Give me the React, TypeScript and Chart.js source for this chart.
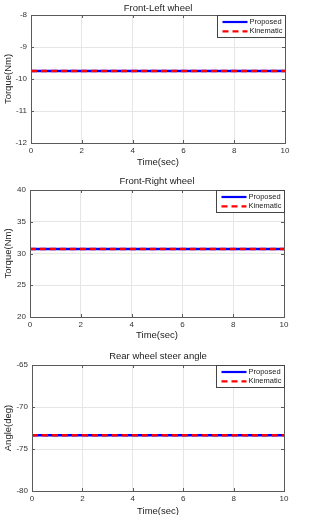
import React, { useEffect, useRef } from "react";
import { Chart, registerables } from "chart.js";
Chart.register(...registerables);

// ---- data ----
const time = [0, 1, 2, 3, 4, 5, 6, 7, 8, 9, 10];
const frontLeftProposed = [-9.75, -9.75, -9.75, -9.75, -9.75, -9.75, -9.75, -9.75, -9.75, -9.75, -9.75];
const frontLeftKinematic = [-9.75, -9.75, -9.75, -9.75, -9.75, -9.75, -9.75, -9.75, -9.75, -9.75, -9.75];
const frontRightProposed = [30.7, 30.7, 30.7, 30.7, 30.7, 30.7, 30.7, 30.7, 30.7, 30.7, 30.7];
const frontRightKinematic = [30.7, 30.7, 30.7, 30.7, 30.7, 30.7, 30.7, 30.7, 30.7, 30.7, 30.7];
const rearProposed = [-73.35, -73.35, -73.35, -73.35, -73.35, -73.35, -73.35, -73.35, -73.35, -73.35, -73.35];
const rearKinematic = [-73.35, -73.35, -73.35, -73.35, -73.35, -73.35, -73.35, -73.35, -73.35, -73.35, -73.35];

const xTicks = [0, 2, 4, 6, 8, 10];
const frontLeftTicks = [-12, -11, -10, -9, -8];
const frontRightTicks = [20, 25, 30, 35, 40];
const rearTicks = [-80, -75, -70, -65];

const seriesLabels = ["Proposed", "Kinematic"];
const panelTitles = ["Front-Left wheel", "Front-Right wheel", "Rear wheel steer angle"];
const yTitles = ["Torque(Nm)", "Torque(Nm)", "Angle(deg)"];
const xTitle = "Time(sec)";

const FONT = '"Liberation Sans", Arial, sans-serif';
const W = 317;
const C = 190; // canvas height
const XH = 30; // x axis box height

type Panel = {
  top: number;
  plotTop: number;
  plotBottom: number;
  plotLeft: number;
  plotRight: number;
  titleY: number;
  xTitlePad: number;
  title: string;
  yTitle: string;
  yTicks: number[];
  proposed: number[];
  kinematic: number[];
};

const panels: Panel[] = [
  { top: 0, plotTop: 15, plotBottom: 143, plotLeft: 31, plotRight: 285, titleY: 8, xTitlePad: 5.3,
    title: panelTitles[0], yTitle: yTitles[0], yTicks: frontLeftTicks, proposed: frontLeftProposed, kinematic: frontLeftKinematic },
  { top: 170, plotTop: 20, plotBottom: 147, plotLeft: 30, plotRight: 284, titleY: 11.7, xTitlePad: 6.3,
    title: panelTitles[1], yTitle: yTitles[1], yTicks: frontRightTicks, proposed: frontRightProposed, kinematic: frontRightKinematic },
  { top: 340, plotTop: 25, plotBottom: 151, plotLeft: 32, plotRight: 284, titleY: 16, xTitlePad: 3.6,
    title: panelTitles[2], yTitle: yTitles[2], yTicks: rearTicks, proposed: rearProposed, kinematic: rearKinematic },
];

const framePlugin = {
  id: "frame",
  afterDraw(chart: any) {
    const { ctx, chartArea: a, scales } = chart;
    ctx.save();
    ctx.strokeStyle = "#5a5a5a";
    ctx.lineWidth = 1;
    // inward tick marks
    ctx.beginPath();
    scales.x.ticks.forEach((t: any) => {
      const px = Math.round(scales.x.getPixelForValue(t.value)) + 0.5;
      ctx.moveTo(px, a.bottom); ctx.lineTo(px, a.bottom - 3);
      ctx.moveTo(px, a.top); ctx.lineTo(px, a.top + 3);
    });
    scales.y.ticks.forEach((t: any) => {
      const py = Math.round(scales.y.getPixelForValue(t.value)) + 0.5;
      ctx.moveTo(a.left, py); ctx.lineTo(a.left + 3, py);
      ctx.moveTo(a.right, py); ctx.lineTo(a.right - 3, py);
    });
    ctx.stroke();
    ctx.strokeRect(Math.round(a.left) + 0.5, Math.round(a.top) + 0.5, Math.round(a.right - a.left), Math.round(a.bottom - a.top));
    ctx.restore();
  },
};

const titlePlugin = {
  id: "ptitle",
  afterDraw(chart: any, _args: any, opts: any) {
    const { ctx, chartArea: a } = chart;
    ctx.save();
    ctx.font = `9.5px ${FONT}`;
    ctx.fillStyle = "#222";
    ctx.textAlign = "center";
    ctx.textBaseline = "middle";
    ctx.fillText(opts.text, (a.left + a.right) / 2, opts.y);
    ctx.restore();
  },
};

const legendPlugin = {
  id: "plegend",
  afterDraw(chart: any) {
    const { ctx, chartArea: a } = chart;
    const bw = 68, bh = 22;
    const x0 = Math.round(a.right - bw) + 0.5;
    const y0 = Math.round(a.top) + 0.5;
    ctx.save();
    ctx.fillStyle = "#ffffff";
    ctx.fillRect(x0, y0, bw, bh);
    ctx.strokeStyle = "#444";
    ctx.lineWidth = 1;
    ctx.strokeRect(x0, y0, bw, bh);
    ctx.font = `7.5px ${FONT}`;
    ctx.textBaseline = "middle";
    ctx.textAlign = "left";
    chart.data.datasets.forEach((ds: any, i: number) => {
      const y = y0 + 6.5 + i * 9.3;
      ctx.beginPath();
      ctx.strokeStyle = ds.borderColor;
      ctx.lineWidth = 2.2;
      ctx.setLineDash(ds.borderDash || []);
      ctx.moveTo(x0 + 5, y);
      ctx.lineTo(x0 + 30, y);
      ctx.stroke();
      ctx.setLineDash([]);
      ctx.fillStyle = "#222";
      ctx.fillText(ds.label, x0 + 32, y);
    });
    ctx.restore();
  },
};

function PanelChart({ p }: { p: Panel }) {
  const ref = useRef<HTMLCanvasElement | null>(null);
  useEffect(() => {
    if (!ref.current) return;
    const yMin = p.yTicks[0];
    const yMax = p.yTicks[p.yTicks.length - 1];
    const chart = new Chart(ref.current, {
      type: "line",
      data: {
        datasets: [
          {
            label: seriesLabels[0],
            data: time.map((t, i) => ({ x: t, y: p.proposed[i] })),
            borderColor: "#0000ff",
            borderWidth: 2.5,
            pointRadius: 0,
            order: 1,
          },
          {
            label: seriesLabels[1],
            data: time.map((t, i) => ({ x: t, y: p.kinematic[i] })),
            borderColor: "#ff0000",
            borderWidth: 2.5,
            borderDash: [6, 4],
            pointRadius: 0,
            order: 0,
          },
        ],
      },
      options: {
        responsive: false,
        animation: false,
        devicePixelRatio: 1,
        layout: {
          padding: { top: p.plotTop, left: 0, right: W - p.plotRight, bottom: C - p.plotBottom - XH },
        },
        plugins: {
          legend: { display: false },
          title: { display: false },
          tooltip: { enabled: false },
          ptitle: { text: p.title, y: p.titleY },
        } as any,
        scales: {
          x: {
            type: "linear",
            min: 0,
            max: 10,
            afterBuildTicks: (s: any) => { s.ticks = xTicks.map((v) => ({ value: v })); },
            afterFit: (s: any) => { s.height = XH; },
            grid: { color: "#e6e6e6", drawTicks: false },
            border: { display: false },
            ticks: { padding: 3, font: { family: FONT, size: 8 }, color: "#333" },
            title: { display: true, text: xTitle, font: { family: FONT, size: 9.5 }, color: "#222", padding: { top: 0, bottom: p.xTitlePad } },
          },
          y: {
            type: "linear",
            min: yMin,
            max: yMax,
            afterBuildTicks: (s: any) => { s.ticks = p.yTicks.map((v) => ({ value: v })); },
            afterFit: (s: any) => { s.width = p.plotLeft; },
            grid: { color: "#e6e6e6", drawTicks: false },
            border: { display: false },
            ticks: { padding: 4, font: { family: FONT, size: 8 }, color: "#333" },
            title: { display: true, text: p.yTitle, font: { family: FONT, size: 9.5 }, color: "#222", padding: { top: 2.3, bottom: 0 } },
          },
        },
      },
      plugins: [framePlugin, titlePlugin, legendPlugin],
    } as any);
    return () => chart.destroy();
  }, [p]);
  return (
    <canvas
      ref={ref}
      width={W}
      height={C}
      style={{ position: "absolute", left: 0, top: p.top, width: W, height: C }}
    />
  );
}

export default function App() {
  return (
    <div style={{ position: "fixed", left: 0, top: 0, width: W, height: 515, overflow: "hidden", background: "#fff" }}>
      {panels.map((p, i) => (
        <PanelChart key={i} p={p} />
      ))}
    </div>
  );
}
